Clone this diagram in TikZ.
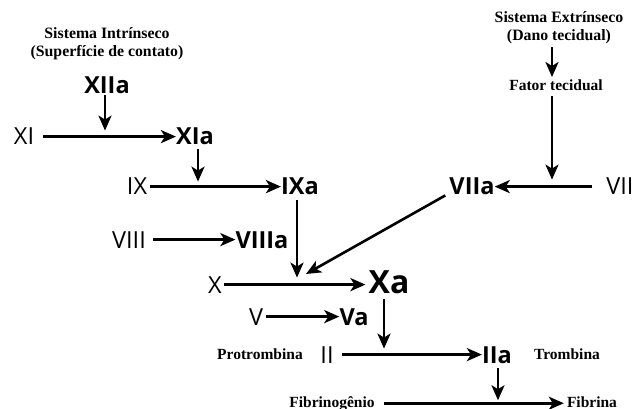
\documentclass[tikz,border=0pt]{standalone}
\usepackage{fontspec}
\setmainfont{Liberation Serif}
\newfontfamily\numfont{Open Sans}
\usetikzlibrary{arrows.meta}

\begin{document}
\begin{tikzpicture}[x=1pt,y=-1pt,
  lab/.style={font=\bfseries\fontsize{15.8}{18}\selectfont, inner sep=0pt, align=center},
  lab1/.style={font=\bfseries\fontsize{15.5}{18}\selectfont, anchor=base, inner sep=0pt},
  fac/.style={font=\numfont\fontsize{23.5}{24}\selectfont, anchor=base, inner sep=0pt},
  act/.style={font=\numfont\bfseries\fontsize{23.5}{24}\selectfont, anchor=base, inner sep=0pt},
  big/.style={font=\numfont\bfseries\fontsize{32}{32}\selectfont},
  arr/.style={line width=2.6pt, -{Stealth[length=15pt,width=13pt,inset=4pt]}}]
\useasboundingbox (0,0) rectangle (635,409);

% headings
\node[lab] (intr) at (107,44) {Sistema Intrínseco\\(Superfície de contato)};
\node[lab] (extr) at (559,28) {Sistema Extrínseco\\(Dano tecidual)};
\node[lab1] (ft) at (556,91) {Fator tecidual};

% clotting factors
\node[act] (XIIa) at (107,94) {XIIa};
\node[fac] (XI) at (24,145) {XI};
\node[act] (XIa) at (195,145) {XIa};
\node[fac] (IX) at (137,195) {IX};
\node[act] (IXa) at (300,195) {IXa};
\node[fac] (VIII) at (129,248) {VIII};
\node[act] (VIIIa) at (262,248) {VIIIa};
\node[fac] (VII) at (620,195) {VII};
\node[act] (VIIa) at (472,195) {VIIa};
\node[fac] (X) at (215,293) {X};
\node[act,big] (Xa) at (389,293) {Xa};
\node[fac] (V) at (256,325) {V};
\node[act] (Va) at (354,325) {Va};
\node[fac] (II) at (327,363) {II};
\node[act] (IIa) at (497,363) {IIa};
\node[lab1] (prot) at (260,359) {Protrombina};
\node[lab1] (tromb) at (567,359) {Trombina};
\node[lab1] (fbg) at (332,407) {Fibrinogênio};
\node[lab1] (fib) at (592,407) {Fibrina};

% helper points
\coordinate (ftx) at ([xshift=-4pt]ft.north);
\coordinate (ftb) at ([xshift=-4pt]ft.south);
\coordinate (xin) at (306,274);

% conversions
\draw[arr] ([xshift=9pt]XI.east) -- (XI.east -| XIa.west);
\draw[arr] ([xshift=3pt]IX.east) -- (IX.east -| IXa.west);
\draw[arr] ([xshift=7pt]VIII.east) -- (VIII.east -| VIIIa.west);
\draw[arr] ([xshift=-14pt]VII.west) -- (VII.west -| VIIa.east);
\draw[arr,shorten >=3pt] ([xshift=2pt]X.east) -- (X.east -| Xa.west);
\draw[arr] ([xshift=3pt]V.east) -- (V.east -| Va.west);
\draw[arr] ([xshift=8pt]II.east) -- (II.east -| IIa.west);
\draw[arr] ([xshift=9pt]fbg.east) -- ([xshift=-3pt]fbg.east -| fib.west);

% activations
\draw[arr,shorten <=1pt,shorten >=6pt] ([xshift=-2pt]XIIa.south) -- ([xshift=-2pt]XIIa.south |- XI.east);
\draw[arr,shorten <=4pt,shorten >=5pt] ([xshift=3pt]XIa.south) -- ([xshift=3pt]XIa.south |- IX.east);
\draw[arr,shorten <=5pt,shorten >=7pt] ([xshift=-3pt]IXa.south) -- ([xshift=-3pt]IXa.south |- X.east);
\draw[arr] ([xshift=-4pt]VIIa.south west) -- (xin);
\draw[arr,shorten <=3pt,shorten >=3pt] (ftx |- extr.south) -- (ftx);
\draw[arr,shorten <=5pt,shorten >=7pt] (ftb) -- (ftb |- VII.west);
\draw[arr,shorten <=5pt,shorten >=6pt] ([xshift=-5pt]Xa.south) -- ([xshift=-5pt]Xa.south |- II.east);
\draw[arr,shorten <=5pt,shorten >=3pt] ([xshift=1pt]IIa.south) -- ([xshift=1pt]IIa.south |- fbg.east);
\end{tikzpicture}
\end{document}
